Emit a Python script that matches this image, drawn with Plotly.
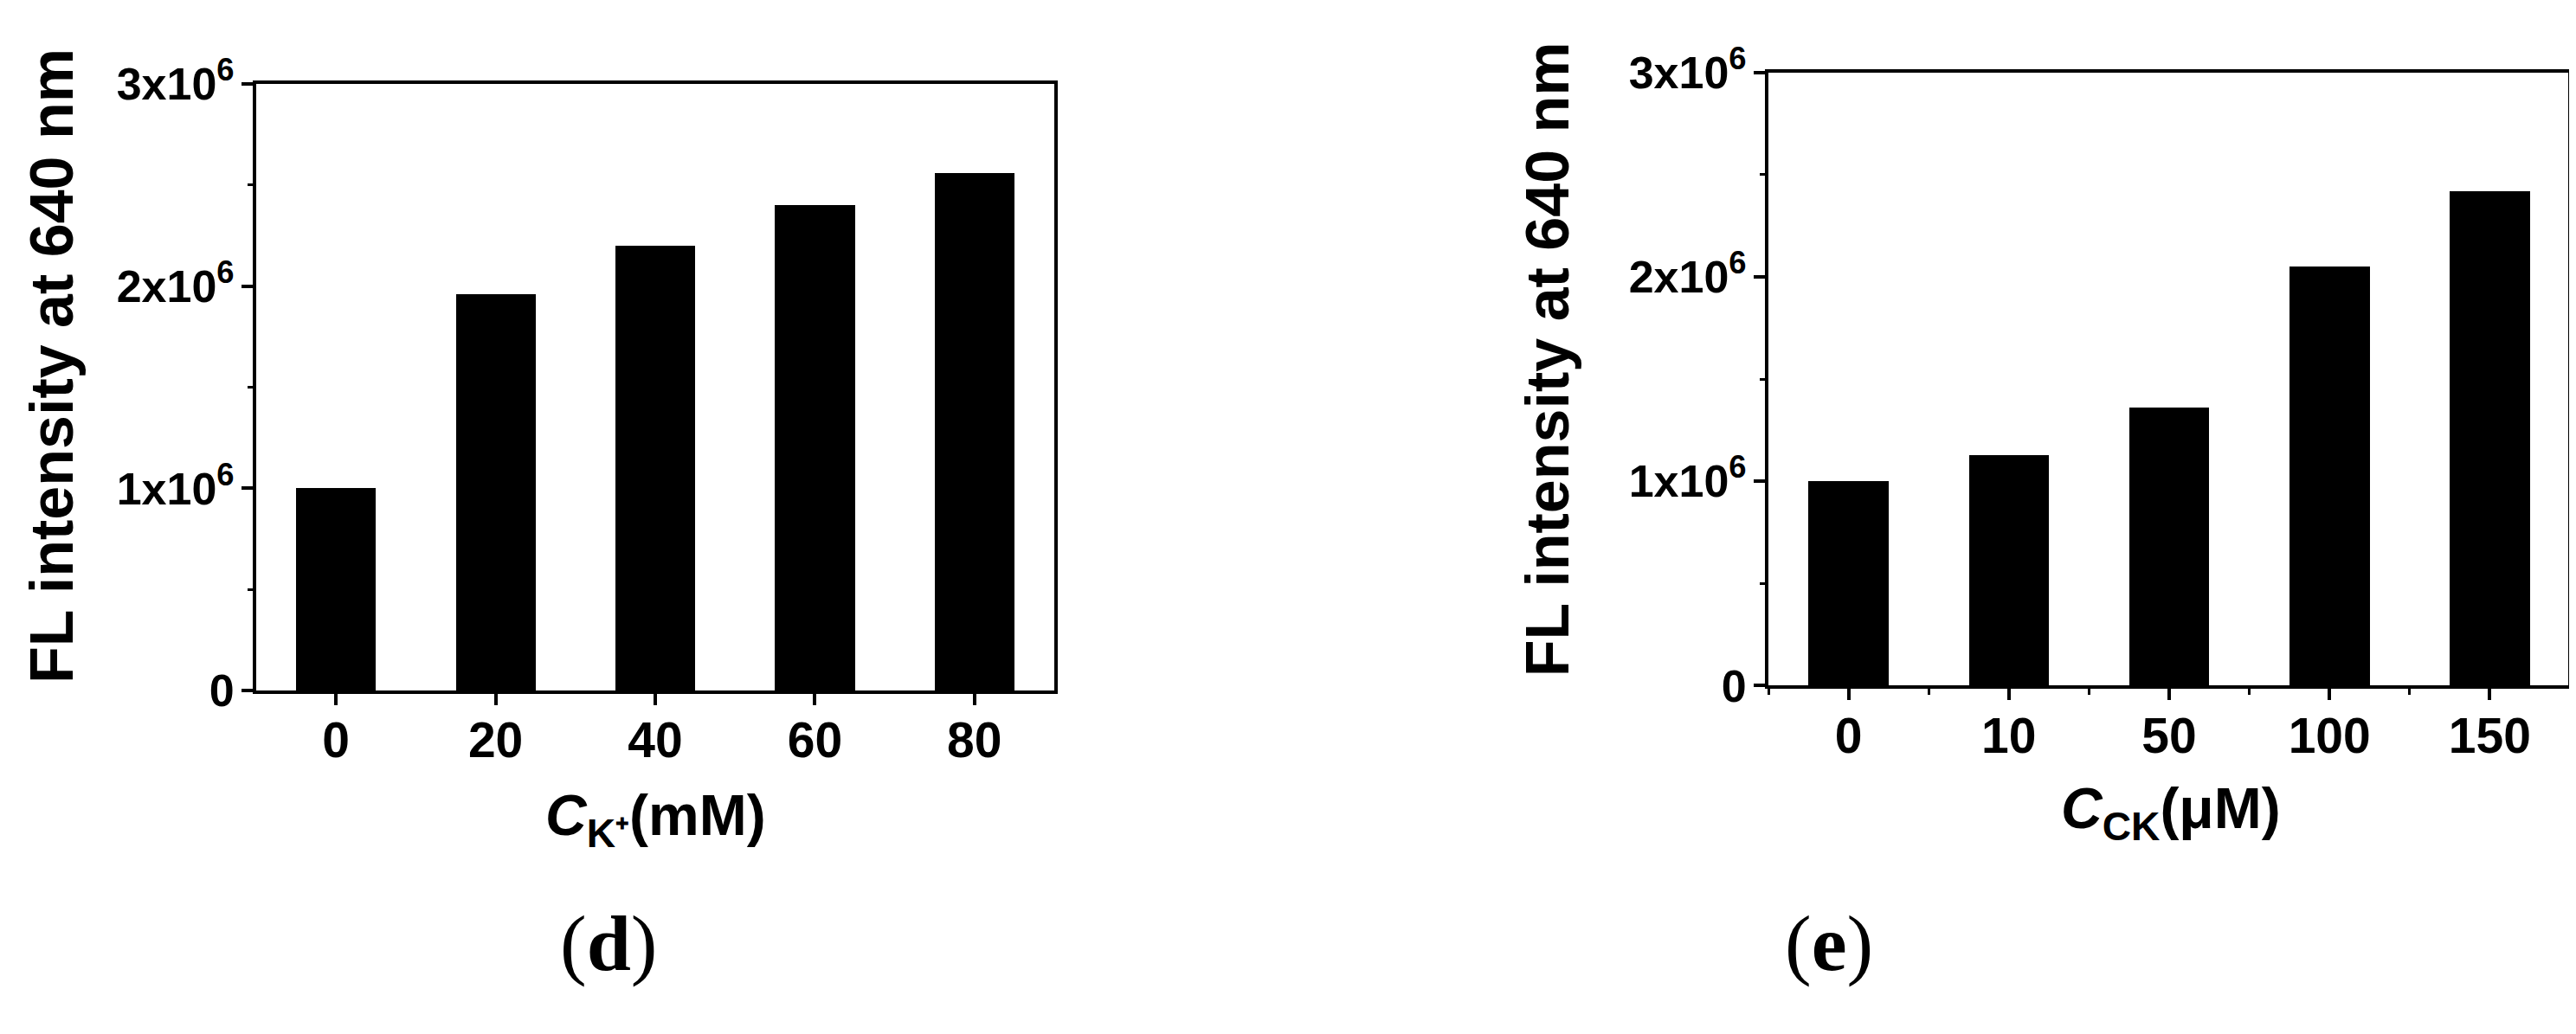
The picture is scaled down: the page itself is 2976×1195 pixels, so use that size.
import plotly.graph_objects as go

W, H = 2976, 1195

# ---- data ----
k_labels = ["0", "20", "40", "60", "80"]
k_values = [1.00e6, 1.96e6, 2.20e6, 2.40e6, 2.56e6]
ck_labels = ["0", "10", "50", "100", "150"]
ck_values = [1.00e6, 1.13e6, 1.36e6, 2.05e6, 2.42e6]
y_tickvals = [0, 1e6, 2e6, 3e6]
y_ticktext = ["0", "1x10<sup>6</sup>", "2x10<sup>6</sup>", "3x10<sup>6</sup>"]
y_title = "FL intensity at 640 nm"
x_title_left = "<i>C</i><sub>K⁺</sub>(mM)"
x_title_right = "<i>C</i><sub>CK</sub>(μM)"
panel_labels = ["(<b>d</b>)", "(<b>e</b>)"]

FONT = "Liberation Sans, Arial, sans-serif"
SERIF = "Liberation Serif, Times New Roman, serif"


def px(x):
    return x / W


def py(y):
    return 1 - y / H


fig = go.Figure()
fig.add_trace(go.Bar(x=list(range(len(k_values))), y=k_values, width=0.5,
                     marker=dict(color="black", line=dict(width=0)),
                     xaxis="x", yaxis="y", showlegend=False))
fig.add_trace(go.Bar(x=list(range(len(ck_values))), y=ck_values, width=0.5,
                     marker=dict(color="black", line=dict(width=0)),
                     xaxis="x2", yaxis="y2", showlegend=False))

xtickfont = dict(family=FONT, size=57, color="black", weight="bold")
ytickfont = dict(family=FONT, size=52, color="black", weight="bold")
common_x = dict(range=[-0.5, 4.5], tickmode="array", tickvals=list(range(5)),
                showline=True, linecolor="black", linewidth=4, mirror=True,
                ticks="outside", ticklen=13, tickwidth=4, tickcolor="black",
                showgrid=False, zeroline=False, tickfont=xtickfont, fixedrange=True,
                ticklabelstandoff=-8)
common_y = dict(range=[0, 3e6], tickmode="array", tickvals=y_tickvals, ticktext=y_ticktext,
                showline=True, linecolor="black", linewidth=4, mirror=True,
                ticks="outside", ticklen=13, tickwidth=4, tickcolor="black",
                showgrid=False, zeroline=False, tickfont=ytickfont, ticklabelstandoff=-2,
                minor=dict(tickvals=[5e5, 1.5e6, 2.5e6], ticks="outside", ticklen=6,
                           tickwidth=3, tickcolor="black", showgrid=False))

fig.update_layout(
    width=W, height=H,
    margin=dict(l=0, r=0, t=0, b=0),
    paper_bgcolor="white", plot_bgcolor="white",
    xaxis=dict(domain=[px(288), px(1210)], anchor="y", ticktext=k_labels, **common_x),
    yaxis=dict(domain=[py(797), py(55)], anchor="x", **common_y),
    xaxis2=dict(domain=[px(2035), px(2961)], anchor="y2", ticktext=ck_labels,
                minor=dict(tickvals=[-0.5, 0.5, 1.5, 2.5, 3.5, 4.5], ticks="outside",
                           ticklen=7, tickwidth=3, tickcolor="black", showgrid=False),
                **common_x),
    yaxis2=dict(domain=[py(791), py(41)], anchor="x2", **common_y),
    bargap=0,
)

# right frame line of panel (e)
fig.add_shape(type="line", xref="x2 domain", yref="y2 domain", x0=1, x1=1, y0=0, y1=1,
              line=dict(color="black", width=4), layer="above")

ann = []
titlefont = dict(family=FONT, size=70, color="black", weight="bold")
ann.append(dict(text=y_title, x=px(52), y=py(400), xref="paper", yref="paper",
                textangle=-90, showarrow=False, font=titlefont, xanchor="center", yanchor="middle"))
ann.append(dict(text=y_title, x=px(1780), y=py(392), xref="paper", yref="paper",
                textangle=-90, showarrow=False, font=titlefont, xanchor="center", yanchor="middle"))
xfont = dict(family=FONT, size=66, color="black", weight="bold")
ann.append(dict(text=x_title_left, x=px(749), y=py(955), xref="paper", yref="paper",
                showarrow=False, font=xfont, xanchor="center", yanchor="middle"))
ann.append(dict(text=x_title_right, x=px(2500), y=py(946), xref="paper", yref="paper",
                showarrow=False, font=xfont, xanchor="center", yanchor="middle"))
lfont = dict(family=SERIF, size=92, color="black")
ann.append(dict(text=panel_labels[0], x=px(695), y=py(1106), xref="paper", yref="paper",
                showarrow=False, font=lfont, xanchor="center", yanchor="middle"))
ann.append(dict(text=panel_labels[1], x=px(2105), y=py(1106), xref="paper", yref="paper",
                showarrow=False, font=lfont, xanchor="center", yanchor="middle"))
fig.update_layout(annotations=ann)

fig.write_html("out.html")
